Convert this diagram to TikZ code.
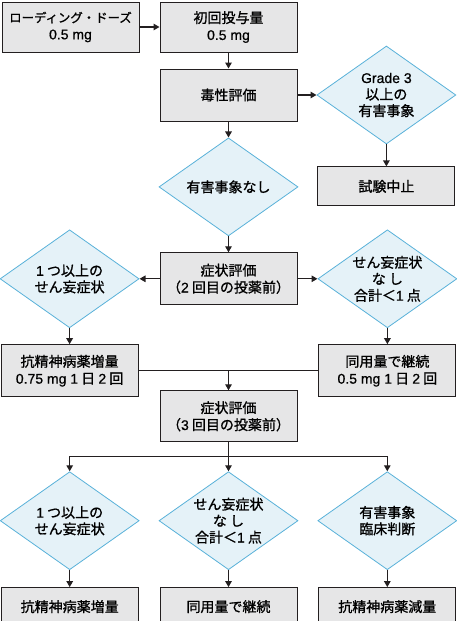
\documentclass[tikz,border=0pt]{standalone}
\usepackage{fontspec}
\setmainfont{Noto Sans CJK JP}[FakeBold=1]
\newfontfamily\lat{Liberation Sans}[FakeBold=0.6]
\usetikzlibrary{arrows.meta,positioning,shapes.geometric,calc}
\definecolor{flowblack}{RGB}{35,31,32}
\definecolor{boxgray}{RGB}{230,230,231}
\definecolor{dmdblue}{RGB}{88,177,217}
\definecolor{dmdfill}{RGB}{229,242,248}
\tikzset{
  pbox/.style={draw=flowblack, fill=boxgray, line width=1pt, minimum width=137pt,
               minimum height=50pt, align=center, inner sep=1pt, font=\fontsize{14}{17}\selectfont},
  dbox/.style={diamond, aspect=1.42, draw=dmdblue, fill=dmdfill, line width=0.8pt, minimum width=139pt,
               minimum height=98pt, align=center, inner sep=0pt, font=\fontsize{14}{16.5}\selectfont},
  flow/.style={-{Triangle[length=6pt,width=6.5pt]}, line width=1.3pt, draw=flowblack},
  link/.style={line width=1.3pt, draw=flowblack},
}

\begin{document}
\begin{tikzpicture}[x=1pt,y=1pt]
    \useasboundingbox (0,0) rectangle (456,-621);
    % first dose and toxicity
    \node[pbox, font=\fontsize{12.4}{17}\selectfont] (load) at (70.5,-27) {ローディング・ドーズ\\{\lat\fontsize{14}{17}\selectfont 0.5 mg}};
    \node[pbox, right=20pt of load] (init) {初回投与量\\{\lat 0.5 mg}};
    \node[pbox, below=16pt of init, minimum height=52pt] (tox) {毒性評価};
    \node[dbox, right=19pt of tox] (grade) {{\lat Grade 3}\\以上の\\有害事象};
    \node[pbox, below=22pt of grade, minimum height=39pt] (stop) {試験中止};
    \node[dbox, below=16pt of tox] (noae) {有害事象なし};
    % second assessment
    \node[pbox, below=16pt of noae, minimum height=52pt] (sym2) {症状評価\\（{\lat 2} 回目の投薬前）};
    \node[dbox, left=20pt of sym2] (multi1) {{\lat 1} つ以上の\\せん妄症状};
    \node[dbox, right=20pt of sym2] (none1) {せん妄症状\\な し\\合計＜{\lat 1} 点};
    \node[pbox, below=16pt of multi1, minimum height=52pt] (inc1) {抗精神病薬増量\\{\lat 0.75 mg 1} 日 {\lat 2} 回};
    \node[pbox, below=16pt of none1, minimum height=52pt] (same1) {同用量で継続\\{\lat 0.5 mg 1} 日 {\lat 2} 回};
    % third assessment
    \node[pbox, below=85pt of sym2, minimum height=51pt] (sym3) {症状評価\\（{\lat 3} 回目の投薬前）};
    \node[dbox, below=29pt of sym3] (none2) {せん妄症状\\な し\\合計＜{\lat 1} 点};
    \node[dbox, left=19pt of none2] (multi2) {{\lat 1} つ以上の\\せん妄症状};
    \node[dbox, right=19pt of none2] (harm2) {有害事象\\臨床判断};
    \node[pbox, below=17pt of multi2, minimum height=38pt] (inc2) {抗精神病薬増量};
    \node[pbox, below=17pt of none2, minimum height=38pt] (same2) {同用量で継続};
    \node[pbox, below=17pt of harm2, minimum height=38pt] (dec2) {抗精神病薬減量};
    % connectors
    \draw[flow] (load) -- (init);
    \draw[flow] (init) -- (tox);
    \draw[flow] (tox) -- (grade);
    \draw[flow] (grade) -- (stop);
    \draw[flow] (tox) -- (noae);
    \draw[flow] (noae) -- (sym2);
    \draw[flow] (sym2) -- (multi1);
    \draw[flow] (sym2) -- (none1);
    \draw[flow] (multi1) -- (inc1);
    \draw[flow] (none1) -- (same1);
    \draw[link] (inc1.east) -- (same1.west);
    \draw[flow] ($(inc1.east)!0.5!(same1.west)$) -- (sym3.north);
    \coordinate[below=14pt of sym3] (split);
    \draw[flow] (sym3) -- (none2);
    \draw[flow] (split) -| (multi2.north);
    \draw[flow] (split) -| (harm2.north);
    \draw[flow] (multi2) -- (inc2);
    \draw[flow] (none2) -- (same2);
    \draw[flow] (harm2) -- (dec2);
\end{tikzpicture}
\end{document}
